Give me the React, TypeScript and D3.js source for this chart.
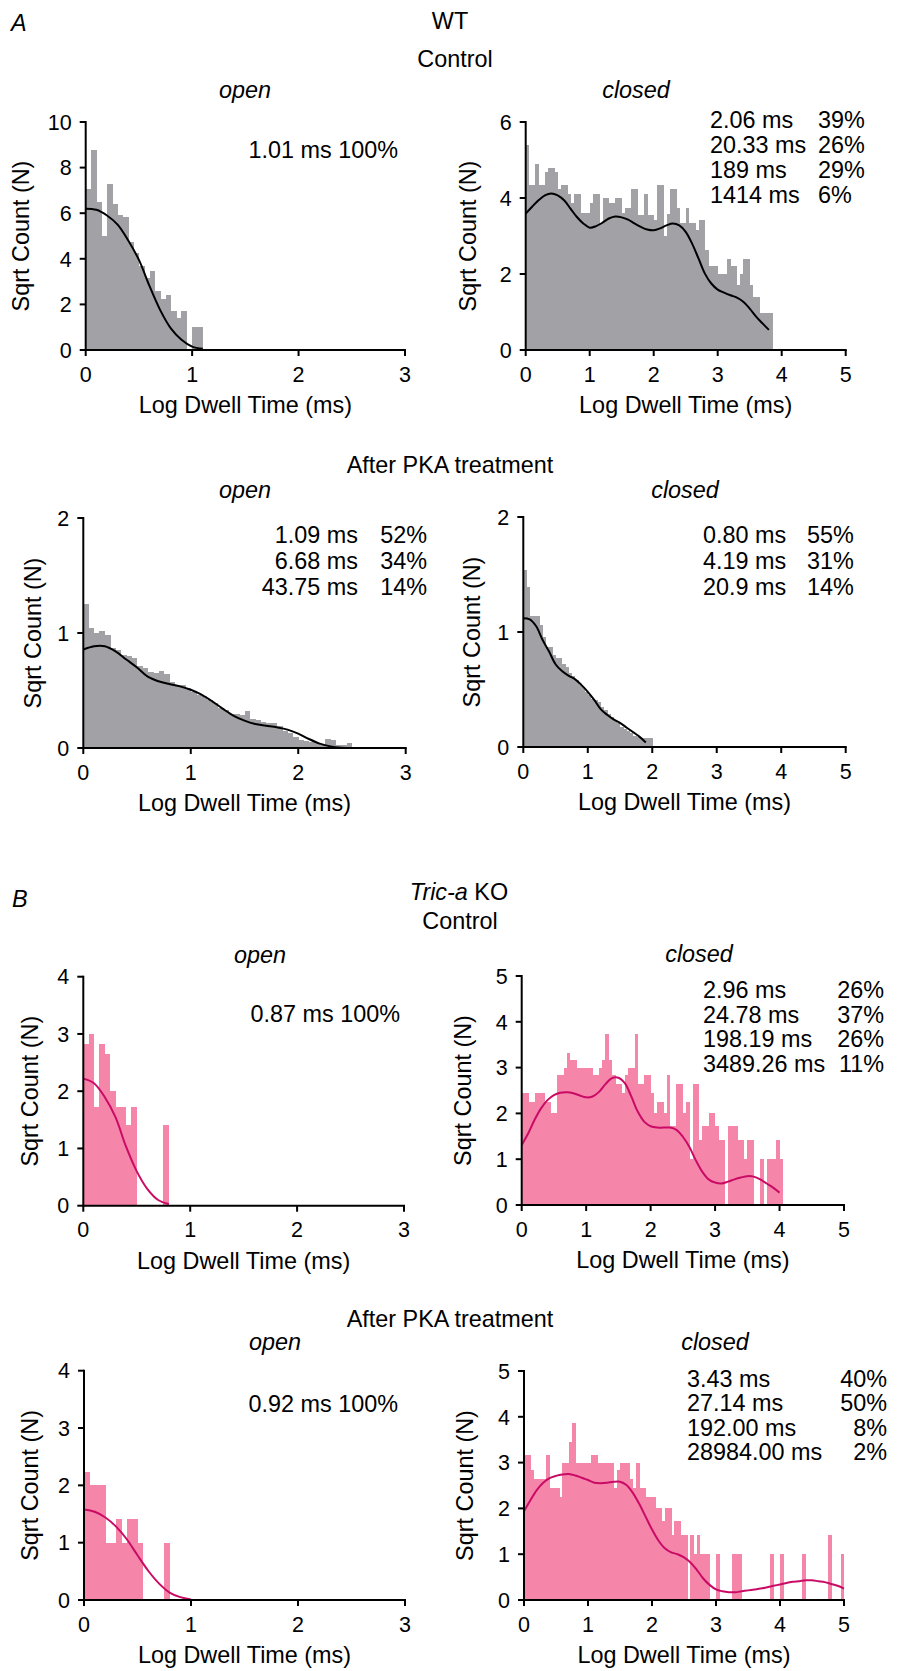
import React from 'react';
import * as d3 from 'd3';

const FONT = '"Liberation Sans", Arial, Helvetica, sans-serif';
const GRAY = '#a1a1a6';
const PINK = '#f586aa';
const MAGENTA = '#c90b66';
const BIN = 0.05; // log10 bin width
const FIT_STEP = 0.1; // spacing of the read-off fit curve points

// sqrt(count) per 0.05 log bin, starting at 0
const wtCtrlOpen = [7.05, 8.76, 6.5, 5.0, 7.3, 6.4, 5.9, 5.85, 4.75, 4.25, 3.7, 3.15, 3.45, 2.6, 2.25, 2.4, 1.72, 1.4, 1.72, 0, 1.0, 1.0];
const wtCtrlOpenFit = [6.2, 6.15, 5.9, 5.5, 4.8, 3.95, 2.8, 1.75, 0.95, 0.45, 0.15, 0.05];

const wtCtrlClosed = [
  5.39, 4.33, 4.33, 4.89, 4.33, 4.33, 4.68, 4.79, 4.79, 4.68,
  4.23, 4.33, 4.33, 4.1, 3.87, 4.1, 4.1, 3.6, 3.6, 3.6,
  3.87, 4.1, 4.1, 3.35, 4.0, 4.0, 3.87, 3.87, 4.0, 4.0,
  3.6, 3.75, 3.75, 4.23, 4.23, 3.55, 3.55, 4.1, 3.55, 3.55,
  3.43, 4.33, 4.33, 3.0, 3.59, 4.23, 4.23, 3.75, 3.35, 3.35,
  3.75, 3.33, 3.33, 3.15, 3.43, 3.43, 2.63, 2.22, 2.22, 2.22,
  2.0, 2.0, 2.0, 2.4, 2.22, 2.22, 1.7, 2.0, 2.4, 2.4,
  1.7, 1.4, 1.4, 0.98, 0.98, 0.98, 0.98,
];
const wtCtrlClosedFit = [
  3.59, 3.77, 3.94, 4.07, 4.12, 4.07, 3.94, 3.72, 3.5, 3.33,
  3.22, 3.26, 3.35, 3.46, 3.51, 3.49, 3.43, 3.33, 3.24, 3.17,
  3.15, 3.2, 3.28, 3.33, 3.28, 3.11, 2.8, 2.41, 2.01, 1.75,
  1.59, 1.51, 1.44, 1.38, 1.27, 1.09, 0.88, 0.7, 0.53,
];

const wtPkaOpen = [
  1.25, 1.04, 1.0, 1.02, 0.98, 0.87, 0.85, 0.81, 0.8, 0.78,
  0.71, 0.7, 0.66, 0.65, 0.67, 0.64, 0.57, 0.55, 0.55, 0.52,
  0.49, 0.46, 0.45, 0.42, 0.39, 0.35, 0.33, 0.3, 0.3, 0.29,
  0.32, 0.25, 0.24, 0.23, 0.22, 0.22, 0.19, 0.15, 0.13, 0.1,
  0.07, 0.06, 0.05, 0.04, 0.03, 0.08, 0.07, 0.03, 0.03, 0.04,
];
const wtPkaOpenFit = [0.855, 0.884, 0.884, 0.84, 0.77, 0.7, 0.62, 0.58, 0.556, 0.536, 0.507, 0.464, 0.406, 0.34, 0.28, 0.238, 0.209, 0.194, 0.18, 0.16, 0.125, 0.078, 0.038, 0.014, 0.003, 0];

const wtPkaClosed = [
  1.54, 1.39, 1.14, 1.14, 1.14, 1.06, 0.96, 0.87, 0.87, 0.8,
  0.77, 0.77, 0.72, 0.7, 0.64, 0.62, 0.58, 0.54, 0.52, 0.48,
  0.45, 0.42, 0.41, 0.39, 0.35, 0.32, 0.29, 0.26, 0.23, 0.21,
  0.17, 0.16, 0.14, 0.12, 0.1, 0.09, 0.08, 0.08, 0.08, 0.08,
];
const wtPkaClosedFit = [1.12, 1.11, 1.05, 0.93, 0.83, 0.72, 0.66, 0.62, 0.59, 0.54, 0.48, 0.41, 0.33, 0.28, 0.24, 0.21, 0.17, 0.13, 0.09, 0.04];

const koCtrlOpen = [2.83, 3.0, 1.73, 2.83, 2.65, 2.0, 1.73, 1.73, 1.41, 1.73, 0, 0, 0, 0, 0, 1.41];
const koCtrlOpenFit = [2.22, 2.14, 1.9, 1.55, 1.03, 0.6, 0.29, 0.1, 0.03];

const koCtrlClosed = [
  2.45, 2.45, 2.24, 2.24, 2.45, 2.45, 2.45, 2.24, 2.24, 2.0,
  2.0, 2.83, 2.83, 3.0, 3.32, 3.16, 3.16, 3.0, 3.0, 3.0,
  3.0, 3.0, 2.83, 2.83, 3.0, 3.16, 3.74, 3.16, 2.83, 2.65,
  2.65, 2.45, 2.83, 3.0, 3.0, 3.74, 2.65, 2.65, 2.83, 2.83,
  2.45, 2.0, 2.24, 2.24, 2.0, 2.83, 1.73, 1.73, 2.65, 2.65,
  2.0, 2.24, 1.0, 2.65, 2.65, 1.41, 1.73, 1.73, 2.0, 2.0,
  1.73, 1.41, 1.41, 0, 1.73, 1.73, 1.73, 1.41, 1.41, 1.0,
  1.41, 1.41, 0, 0, 1.0, 0, 1.0, 1.0, 1.0, 1.41,
  1.0,
];
const koCtrlClosedFit = [
  1.31, 1.56, 1.86, 2.11, 2.29, 2.4, 2.45, 2.46, 2.44, 2.39,
  2.35, 2.37, 2.47, 2.64, 2.77, 2.78, 2.66, 2.37, 2.04, 1.82,
  1.72, 1.69, 1.69, 1.69, 1.64, 1.49, 1.27, 0.98, 0.73, 0.56,
  0.49, 0.47, 0.51, 0.56, 0.6, 0.63, 0.62, 0.56, 0.47, 0.38,
  0.27,
];

const koPkaOpen = [2.24, 2.0, 2.0, 2.0, 1.0, 1.0, 1.41, 1.0, 1.41, 1.41, 1.0, 0, 0, 0, 0, 1.0];
const koPkaOpenFit = [1.58, 1.54, 1.44, 1.28, 1.06, 0.78, 0.51, 0.29, 0.13, 0.05, 0.01];

const koPkaClosed = [
  3.16, 3.16, 2.83, 2.65, 2.65, 2.65, 2.65, 3.16, 2.45, 2.45,
  2.45, 2.24, 3.0, 3.0, 3.46, 3.87, 3.0, 3.0, 3.0, 3.0,
  3.0, 3.16, 3.16, 3.0, 3.0, 3.0, 3.0, 3.0, 2.45, 2.83,
  3.0, 3.0, 3.0, 2.65, 2.45, 3.0, 2.45, 2.45, 2.24, 2.24,
  2.24, 2.0, 2.0, 1.73, 2.0, 2.0, 1.41, 1.73, 1.73, 1.41,
  1.41, 0, 1.41, 1.0, 1.41, 1.0, 1.0, 1.0, 0, 0,
  1.0, 0, 0, 0, 0, 1.0, 1.0, 1.0, 0, 0,
  0, 0, 0, 0, 0, 0, 0, 1.0, 0, 0,
  1.0, 0, 0, 0, 0, 0, 0, 1.0, 0, 0,
  0, 0, 0, 0, 0, 1.41, 0, 0, 0, 1.0,
];
const koPkaClosedFit = [
  1.94, 2.18, 2.4, 2.56, 2.66, 2.71, 2.74, 2.75, 2.72, 2.67,
  2.62, 2.56, 2.55, 2.56, 2.58, 2.58, 2.51, 2.34, 2.1, 1.82,
  1.54, 1.3, 1.13, 1.04, 1.0, 0.93, 0.82, 0.66, 0.47, 0.33,
  0.23, 0.19, 0.17, 0.17, 0.19, 0.21, 0.23, 0.25, 0.28, 0.31,
  0.34, 0.37, 0.4, 0.41, 0.43, 0.43, 0.41, 0.39, 0.35, 0.31,
  0.25,
];

// fitted time constants and their areas
const wtCtrlOpenTau = ['1.01 ms 100%'];
const wtCtrlClosedTau = ['2.06 ms', '20.33 ms', '189 ms', '1414 ms'];
const wtCtrlClosedPct = ['39%', '26%', '29%', '6%'];
const wtPkaOpenTau = ['1.09 ms', '6.68 ms', '43.75 ms'];
const wtPkaOpenPct = ['52%', '34%', '14%'];
const wtPkaClosedTau = ['0.80 ms', '4.19 ms', '20.9 ms'];
const wtPkaClosedPct = ['55%', '31%', '14%'];
const koCtrlOpenTau = ['0.87 ms 100%'];
const koCtrlClosedTau = ['2.96 ms', '24.78 ms', '198.19 ms', '3489.26 ms'];
const koCtrlClosedPct = ['26%', '37%', '26%', '11%'];
const koPkaOpenTau = ['0.92 ms 100%'];
const koPkaClosedTau = ['3.43 ms', '27.14 ms', '192.00 ms', '28984.00 ms'];
const koPkaClosedPct = ['40%', '50%', '8%', '2%'];

const ticks3 = [0, 1, 2, 3];
const ticks5 = [0, 1, 2, 3, 4, 5];

type Col = { x: number; anchor: 'start' | 'end' };
type PanelCfg = {
  bins: number[];
  fit: number[];
  xTicks: number[];
  yTicks: number[];
  frame: { left: number; right: number; bottom: number; top: number };
  fill: string;
  stroke: string;
  title: string;
  titleX: number;
  titleY: number;
  yTitleDx: number;
  tau: string[];
  pct: string[];
  col1: Col;
  col2?: Col;
  noteY: number;
  noteDy: number;
};

const panels: PanelCfg[] = [
  {
    bins: wtCtrlOpen, fit: wtCtrlOpenFit, xTicks: ticks3, yTicks: [0, 2, 4, 6, 8, 10],
    frame: { left: 85.7, right: 405, bottom: 350, top: 122 }, fill: GRAY, stroke: '#000',
    title: 'open', titleX: 245, titleY: 98, yTitleDx: -57,
    tau: wtCtrlOpenTau, pct: [], col1: { x: 398, anchor: 'end' }, noteY: 158, noteDy: 25,
  },
  {
    bins: wtCtrlClosed, fit: wtCtrlClosedFit, xTicks: ticks5, yTicks: [0, 2, 4, 6],
    frame: { left: 525.7, right: 845.7, bottom: 350, top: 122 }, fill: GRAY, stroke: '#000',
    title: 'closed', titleX: 636, titleY: 98, yTitleDx: -50,
    tau: wtCtrlClosedTau, pct: wtCtrlClosedPct, col1: { x: 710, anchor: 'start' }, col2: { x: 818, anchor: 'start' },
    noteY: 128, noteDy: 25,
  },
  {
    bins: wtPkaOpen, fit: wtPkaOpenFit, xTicks: ticks3, yTicks: [0, 1, 2],
    frame: { left: 83.3, right: 405.7, bottom: 748, top: 518 }, fill: GRAY, stroke: '#000',
    title: 'open', titleX: 245, titleY: 498, yTitleDx: -42,
    tau: wtPkaOpenTau, pct: wtPkaOpenPct, col1: { x: 358, anchor: 'end' }, col2: { x: 427, anchor: 'end' },
    noteY: 543, noteDy: 26,
  },
  {
    bins: wtPkaClosed, fit: wtPkaClosedFit, xTicks: ticks5, yTicks: [0, 1, 2],
    frame: { left: 523.3, right: 845.7, bottom: 747, top: 517 }, fill: GRAY, stroke: '#000',
    title: 'closed', titleX: 685, titleY: 498, yTitleDx: -43,
    tau: wtPkaClosedTau, pct: wtPkaClosedPct, col1: { x: 703, anchor: 'start' }, col2: { x: 807, anchor: 'start' },
    noteY: 543, noteDy: 26,
  },
  {
    bins: koCtrlOpen, fit: koCtrlOpenFit, xTicks: ticks3, yTicks: [0, 1, 2, 3, 4],
    frame: { left: 83.3, right: 404, bottom: 1205.7, top: 976.7 }, fill: PINK, stroke: MAGENTA,
    title: 'open', titleX: 260, titleY: 963, yTitleDx: -45,
    tau: koCtrlOpenTau, pct: [], col1: { x: 400, anchor: 'end' }, noteY: 1022, noteDy: 25,
  },
  {
    bins: koCtrlClosed, fit: koCtrlClosedFit, xTicks: ticks5, yTicks: [0, 1, 2, 3, 4, 5],
    frame: { left: 521.7, right: 844, bottom: 1205, top: 976 }, fill: PINK, stroke: MAGENTA,
    title: 'closed', titleX: 699, titleY: 962, yTitleDx: -51,
    tau: koCtrlClosedTau, pct: koCtrlClosedPct, col1: { x: 703, anchor: 'start' }, col2: { x: 884, anchor: 'end' },
    noteY: 998, noteDy: 24.6,
  },
  {
    bins: koPkaOpen, fit: koPkaOpenFit, xTicks: ticks3, yTicks: [0, 1, 2, 3, 4],
    frame: { left: 84, right: 405, bottom: 1600, top: 1370.7 }, fill: PINK, stroke: MAGENTA,
    title: 'open', titleX: 275, titleY: 1350, yTitleDx: -46,
    tau: koPkaOpenTau, pct: [], col1: { x: 398, anchor: 'end' }, noteY: 1412, noteDy: 25,
  },
  {
    bins: koPkaClosed, fit: koPkaClosedFit, xTicks: ticks5, yTicks: [0, 1, 2, 3, 4, 5],
    frame: { left: 524, right: 844, bottom: 1600, top: 1371 }, fill: PINK, stroke: MAGENTA,
    title: 'closed', titleX: 715, titleY: 1350, yTitleDx: -51,
    tau: koPkaClosedTau, pct: koPkaClosedPct, col1: { x: 687, anchor: 'start' }, col2: { x: 887, anchor: 'end' },
    noteY: 1387, noteDy: 24.3,
  },
];

const FS = 23.4; // titles and annotations
const TICK_FS = 21.5;

function Panel({ cfg }: { cfg: PanelCfg }) {
  const { frame } = cfg;
  const xMax = cfg.xTicks[cfg.xTicks.length - 1];
  const yMax = cfg.yTicks[cfg.yTicks.length - 1];
  const x = d3.scaleLinear().domain([0, xMax]).range([frame.left, frame.right]);
  const y = d3.scaleLinear().domain([0, yMax]).range([frame.bottom, frame.top]);
  const line = d3
    .line<number>()
    .x((_, i) => x(i * FIT_STEP))
    .y((d) => y(d))
    .curve(d3.curveCatmullRom);

  return (
    <g>
      <text x={cfg.titleX} y={cfg.titleY} textAnchor="middle" fontStyle="italic">{cfg.title}</text>
      <g shapeRendering="crispEdges">
        {cfg.bins.map((v, i) =>
          v > 0 ? (
            <rect
              key={i}
              x={x(i * BIN)}
              y={y(v)}
              width={x((i + 1) * BIN) - x(i * BIN) + 0.4}
              height={y(0) - y(v)}
              fill={cfg.fill}
            />
          ) : null
        )}
      </g>
      <path d={line(cfg.fit) || ''} fill="none" stroke={cfg.stroke} strokeWidth={2} />
      {/* axes */}
      <line x1={x(0)} x2={x(xMax)} y1={y(0)} y2={y(0)} stroke="#000" strokeWidth={2} strokeLinecap="square" />
      <line x1={x(0)} x2={x(0)} y1={y(0)} y2={y(yMax)} stroke="#000" strokeWidth={2} strokeLinecap="square" />
      {cfg.xTicks.map((t) => (
        <g key={'x' + t}>
          <line x1={x(t)} x2={x(t)} y1={y(0)} y2={y(0) + 6} stroke="#000" strokeWidth={2} />
          <text x={x(t)} y={y(0) + 31.5} textAnchor="middle" fontSize={TICK_FS}>{t}</text>
        </g>
      ))}
      {cfg.yTicks.map((t) => (
        <g key={'y' + t}>
          <line x1={x(0) - 6} x2={x(0)} y1={y(t)} y2={y(t)} stroke="#000" strokeWidth={2} />
          <text x={x(0) - 14} y={y(t)} dy="0.36em" textAnchor="end" fontSize={TICK_FS}>{t}</text>
        </g>
      ))}
      <text x={(frame.left + frame.right) / 2} y={frame.bottom + 63} textAnchor="middle">Log Dwell Time (ms)</text>
      <text
        transform={`translate(${frame.left + cfg.yTitleDx},${(frame.top + frame.bottom) / 2}) rotate(-90)`}
        textAnchor="middle"
      >
        Sqrt Count (N)
      </text>
      {cfg.tau.map((s, i) => (
        <text key={'t' + i} x={cfg.col1.x} y={cfg.noteY + i * cfg.noteDy} textAnchor={cfg.col1.anchor}>{s}</text>
      ))}
      {cfg.col2 &&
        cfg.pct.map((s, i) => (
          <text key={'p' + i} x={cfg.col2!.x} y={cfg.noteY + i * cfg.noteDy} textAnchor={cfg.col2!.anchor}>{s}</text>
        ))}
    </g>
  );
}

export default function App() {
  return (
    <svg
      width={900}
      height={1671}
      style={{ position: 'absolute', left: 0, top: 0, background: '#fff' }}
      fontFamily={FONT}
      fontSize={FS}
      fill="#000"
    >
      <rect width={900} height={1671} fill="#fff" />
      <text x={11} y={31} fontStyle="italic">A</text>
      <text x={450} y={29} textAnchor="middle">WT</text>
      <text x={455} y={67} textAnchor="middle">Control</text>
      <text x={450} y={473} textAnchor="middle">After PKA treatment</text>

      <text x={12} y={907} fontStyle="italic">B</text>
      <text x={459} y={900} textAnchor="middle">
        <tspan fontStyle="italic">Tric-a</tspan> KO
      </text>
      <text x={460} y={929} textAnchor="middle">Control</text>
      <text x={450} y={1327} textAnchor="middle">After PKA treatment</text>

      {panels.map((p, i) => (
        <Panel key={i} cfg={p} />
      ))}
    </svg>
  );
}
